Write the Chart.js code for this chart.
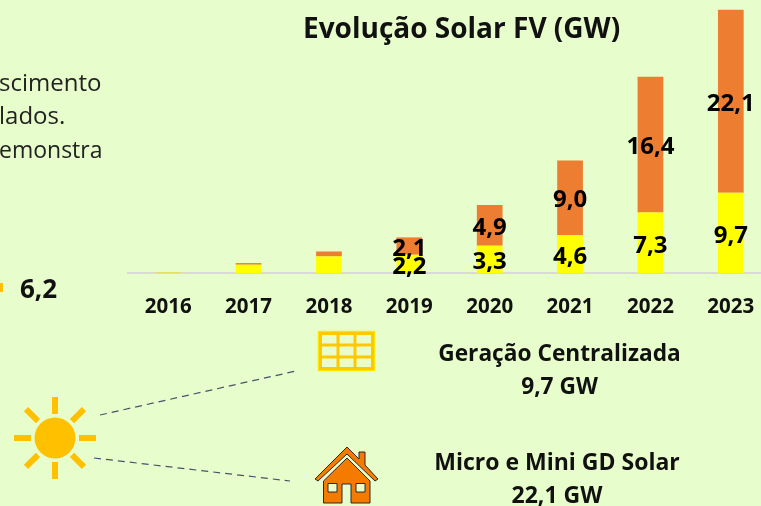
<!DOCTYPE html>
<html lang="pt">
<head>
<meta charset="utf-8">
<style>
html,body{margin:0;padding:0;background:#e8fdcc;width:761px;height:506px;overflow:hidden}
body{position:relative;font-family:"Open Sans",Lato,sans-serif;color:#111}
canvas{position:absolute;left:0;top:0}
.t{position:absolute;white-space:nowrap;line-height:1}
.b{font-weight:700}
.c{transform:translateX(-50%)}
svg{position:absolute;left:0;top:0}
</style>
</head>
<body>
<canvas id="c" width="771" height="506" style="width:771px;height:506px"></canvas>
<svg width="761" height="506" viewBox="0 0 761 506">
  <line x1="100" y1="415" x2="296" y2="371" stroke="#44546a" stroke-width="1.2" stroke-dasharray="7 5"/>
  <line x1="94" y1="458" x2="290" y2="481" stroke="#44546a" stroke-width="1.2" stroke-dasharray="7 5"/>
  <g fill="#ffc000">
    <circle cx="55" cy="438" r="20.5"/>
    <rect x="52" y="397" width="6" height="17"/><rect x="52" y="462" width="6" height="17"/>
    <rect x="14" y="435" width="17" height="6"/><rect x="79" y="435" width="17" height="6"/>
    <g transform="rotate(45 55 438)"><rect x="52" y="397" width="6" height="17"/><rect x="52" y="462" width="6" height="17"/><rect x="14" y="435" width="17" height="6"/><rect x="79" y="435" width="17" height="6"/></g>
  </g>
  <g fill="none">
    <rect x="318.5" y="331.5" width="56" height="39" fill="#e8fdcc" stroke="#ffe600" stroke-width="1.5"/>
    <g stroke="#ffc800" stroke-width="3">
      <rect x="320.5" y="333.5" width="52" height="35"/>
      <line x1="338" y1="333" x2="338" y2="369"/><line x1="355" y1="333" x2="355" y2="369"/>
      <line x1="320" y1="345" x2="373" y2="345"/><line x1="320" y1="357" x2="373" y2="357"/>
    </g>
  </g>
  <g stroke="#1a1a1a" stroke-width="0.9">
    <path d="M315 479 L347 447 L359 459 L359 452 L365 452 L365 465 L378 479 L375 481 L347 454 L318 481 Z" fill="#f47b00"/>
    <path fill-rule="evenodd" fill="#f47b00" d="M323.5 503 L323.5 481 L347 458 L370 481 L370 503 L351 503 L351 484 L342 484 L342 503 Z M328 483.5 L328 492 L337 492 L337 483.5 Z M356 483.5 L356 492 L365 492 L365 483.5 Z"/>
  </g>
  <rect x="0" y="283" width="3" height="9" fill="#ffc000"/>
</svg>
<div class="t b" style="left:303px;top:13px;font-size:28px">Evolução Solar FV (GW)</div>
<div class="t" style="left:-1px;top:70px;font-size:24px;color:#222">scimento</div>
<div class="t" style="left:-1px;top:103px;font-size:24px;color:#222">lados.</div>
<div class="t" style="left:-1px;top:138px;font-size:23px;color:#222">emonstra</div>
<div class="t b" style="left:20px;top:275px;font-size:26px">6,2</div>
<div class="t b c" style="left:559.5px;top:342px;font-size:22.7px">Geração Centralizada</div>
<div class="t b c" style="left:559.5px;top:375px;font-size:22.7px">9,7 GW</div>
<div class="t b c" style="left:557px;top:450px;font-size:23px">Micro e Mini GD Solar</div>
<div class="t b c" style="left:557px;top:483px;font-size:23px">22,1 GW</div>
<script src="https://cdn.jsdelivr.net/npm/chart.js@4"></script>
<script>
const years = ["2016","2017","2018","2019","2020","2021","2022","2023"];
const centralizada = [0.05,1.0,2.0,2.2,3.3,4.6,7.3,9.7];
const distribuida = [0.03,0.2,0.6,2.1,4.9,9.0,16.4,22.1];
const labelFrom = 3;
const labelPlugin = {
  id:'segLabels',
  afterDatasetsDraw(chart){
    const ctx = chart.ctx;
    ctx.save();
    ctx.font = '700 24px "Open Sans", sans-serif';
    ctx.fillStyle = '#000';
    ctx.textAlign = 'center';
    ctx.textBaseline = 'middle';
    chart.data.datasets.forEach((ds,di)=>{
      chart.getDatasetMeta(di).data.forEach((bar,i)=>{
        if(i<labelFrom) return;
        const p = bar.getProps(['x','y','base'],true);
        const txt = ds.data[i].toFixed(1).replace('.',',');
        ctx.fillText(txt,p.x,(p.y+p.base)/2+3);
      });
    });
    ctx.restore();
  }
};
new Chart(document.getElementById('c'),{
  type:'bar',
  data:{labels:years,datasets:[
    {label:'Geração Centralizada',data:centralizada,backgroundColor:'#ffff00',barPercentage:0.32,categoryPercentage:1},
    {label:'Micro e Mini GD Solar',data:distribuida,backgroundColor:'#ed7d31',barPercentage:0.32,categoryPercentage:1}
  ]},
  options:{
    responsive:false,animation:false,
    layout:{padding:{left:128,top:8,right:0,bottom:0}},
    plugins:{legend:{display:false},tooltip:{enabled:false},title:{display:false}},
    scales:{
      x:{stacked:true,
        grid:{display:false},
        border:{color:'#d9d9d9',width:2},
        afterFit(s){s.height=233;},
        ticks:{padding:14,color:'#111',font:{family:'Open Sans',weight:'700',size:20.5},maxRotation:0}},
      y:{stacked:true,display:false,min:0,max:32}
    }
  },
  plugins:[labelPlugin]
});
</script>
</body>
</html>
